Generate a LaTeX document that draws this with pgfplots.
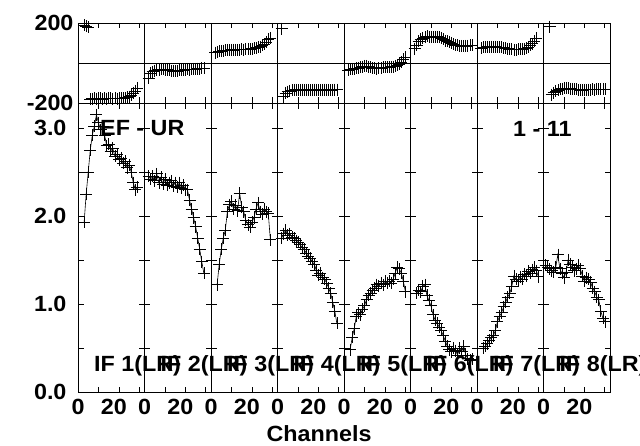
\documentclass[border=0pt]{standalone}
\usepackage{fontspec}
\setmainfont{Liberation Sans}[FakeStretch=1.06]
\usepackage{pgfplots}
\pgfplotsset{compat=1.18}
\pgfplotsset{
 panel/.style={scale only axis, width=66.5pt, xmin=0, xmax=32.5, anchor=south west,
   tick align=inside, major tick length=5.5pt, axis line style={line width=0.8pt},
   every tick/.style={black, line width=0.8pt}, clip=false,
   xtick={0,10,20,30}},
 amp/.style={panel, height=289pt, ymin=0, ymax=3.284, ytick={0,0.5,1,1.5,2,2.5,3},
   xticklabels={0,,{\hspace*{-10pt}20},}, yticklabels={},
   xticklabel style={yshift=-3.5pt}},
 ph/.style={panel, height=80pt, ymin=-200, ymax=200, ytick={-200,200}, yticklabels={},
   xticklabels={}},
 first/.style={yticklabel style={xshift=-8pt}},
 firstph/.style={yticklabel style={xshift=-1pt}},
 aser/.style={black, line width=0.6pt, mark=+, mark size=6pt, mark options={line width=0.6pt}},
 pser/.style={black, only marks, mark=+, mark size=6pt, mark options={line width=0.6pt}},
}
\newcommand{\AmpPanel}[3]{%
  \begin{axis}[amp, at={({78pt+#1*66.5pt},53pt)}, #2]
  \addplot[aser] coordinates {#3};
  \end{axis}}
\newcommand{\PhPanel}[3]{%
  \begin{axis}[ph, at={({78pt+#1*66.5pt},342pt)}, #2]
  \draw[black, line width=0.8pt] (axis cs:0,0) -- (axis cs:32.5,0);
  \addplot[pser] coordinates {#3};
  \end{axis}}
\begin{document}
\begin{tikzpicture}[font=\fontsize{22}{26}\selectfont\bfseries]
\useasboundingbox (0,0) rectangle (640pt,445pt);
% ---------- amplitude ----------
\AmpPanel{0}{first, yticklabels={0.0,,1.0,,2.0,,3.0}}{(3,1.93)(4,2.25)(5,2.50)(6,2.75)(7,2.92)(8,3.02)(9,3.15)(10,3.06)(11,2.98)(12,3.02)(13,2.92)(14,2.80)(15,2.82)(16,2.74)(17,2.77)(18,2.68)(19,2.70)(20,2.64)(21,2.66)(22,2.60)(23,2.62)(24,2.55)(25,2.58)(26,2.50)(27,2.38)(28,2.30)(29,2.33)}
\AmpPanel{1}{}{(2,2.45)(3,2.42)(4,2.45)(5,2.40)(6,2.48)(7,2.38)(8,2.44)(9,2.36)(10,2.42)(11,2.35)(12,2.38)(13,2.40)(14,2.34)(15,2.38)(16,2.33)(17,2.38)(18,2.32)(19,2.35)(20,2.30)(21,2.30)(22,2.18)(23,2.08)(24,1.98)(25,1.88)(26,1.75)(27,1.62)(28,1.48)(29,1.35)}
\AmpPanel{2}{}{(3,1.22)(4,1.45)(5,1.62)(6,1.75)(7,1.84)(8,2.05)(9,2.13)(10,2.17)(11,2.08)(12,2.12)(13,2.06)(14,2.26)(15,2.10)(16,2.05)(17,1.95)(18,1.90)(19,1.87)(20,1.93)(21,1.98)(22,2.08)(23,2.15)(24,2.05)(25,2.02)(26,2.08)(27,2.05)(28,2.03)(29,1.73)}
\AmpPanel{3}{}{(2,1.75)(3,1.80)(4,1.84)(5,1.78)(6,1.80)(7,1.76)(8,1.75)(9,1.72)(10,1.70)(11,1.68)(12,1.64)(13,1.62)(14,1.58)(15,1.54)(16,1.52)(17,1.48)(18,1.45)(19,1.38)(20,1.33)(21,1.35)(22,1.30)(23,1.28)(24,1.24)(25,1.18)(26,1.12)(27,1.02)(28,0.92)(29,0.78)}
\AmpPanel{4}{}{(3,0.48)(4,0.62)(5,0.72)(6,0.86)(7,0.90)(8,0.88)(9,0.94)(10,0.98)(11,1.05)(12,1.10)(13,1.12)(14,1.16)(15,1.18)(16,1.22)(17,1.20)(18,1.24)(19,1.22)(20,1.26)(21,1.24)(22,1.26)(23,1.24)(24,1.28)(25,1.35)(26,1.42)(27,1.40)(28,1.35)(29,1.26)(30,1.14)}
\AmpPanel{5}{}{(3,1.12)(4,1.16)(5,1.14)(6,1.20)(7,1.22)(8,1.10)(9,1.04)(10,0.98)(11,0.88)(12,0.82)(13,0.78)(14,0.74)(15,0.70)(16,0.64)(17,0.58)(18,0.52)(19,0.48)(20,0.46)(21,0.50)(22,0.47)(23,0.42)(24,0.50)(25,0.46)(26,0.52)(27,0.42)(28,0.38)(29,0.36)(30,0.37)}
\AmpPanel{6}{}{(3,0.50)(4,0.52)(5,0.55)(6,0.59)(7,0.62)(8,0.64)(9,0.70)(10,0.80)(11,0.86)(12,0.90)(13,0.97)(14,1.02)(15,1.08)(16,1.12)(17,1.20)(18,1.32)(19,1.28)(20,1.26)(21,1.31)(22,1.28)(23,1.34)(24,1.32)(25,1.37)(26,1.35)(27,1.39)(28,1.42)(29,1.38)(30,1.31)}
\AmpPanel{7}{}{(1,1.44)(2,1.42)(3,1.40)(4,1.38)(5,1.36)(6,1.42)(7,1.56)(8,1.40)(9,1.35)(10,1.30)(11,1.36)(12,1.50)(13,1.45)(14,1.42)(15,1.38)(16,1.40)(17,1.44)(18,1.40)(19,1.32)(20,1.26)(21,1.30)(22,1.28)(23,1.25)(24,1.18)(25,1.14)(26,1.08)(27,1.05)(28,0.92)(29,0.84)(30,0.80)}
% ---------- phase ----------
\PhPanel{0}{firstph, yticklabels={-200,200}}{(3,188)(4,183)(5,178)(6,-180)(7,-178)(8,-176)(9,-179)(10,-175)(11,-177)(12,-180)(13,-176)(14,-178)(15,-175)(16,-177)(17,-179)(18,-176)(19,-178)(20,-175)(21,-177)(22,-176)(23,-174)(24,-172)(25,-168)(26,-160)(27,-150)(28,-140)(29,-125)}
\PhPanel{1}{}{(2,-77)(3,-50)(4,-43)(5,-38)(6,-35)(7,-33)(8,-30)(9,-32)(10,-35)(11,-33)(12,-36)(13,-38)(14,-40)(15,-38)(16,-40)(17,-37)(18,-36)(19,-35)(20,-33)(21,-32)(22,-33)(23,-32)(24,-30)(25,-30)(26,-28)(27,-28)(28,-27)(29,-27)}
\PhPanel{2}{}{(2,52)(3,55)(4,58)(5,60)(6,62)(7,63)(8,65)(9,64)(10,66)(11,65)(12,67)(13,66)(14,66)(15,68)(16,67)(17,68)(18,70)(19,70)(20,72)(21,74)(22,76)(23,78)(24,82)(25,88)(26,95)(27,105)(28,120)(29,125)}
\PhPanel{3}{}{(2,172)(3,-168)(4,-150)(5,-143)(6,-140)(7,-137)(8,-135)(9,-134)(10,-136)(11,-135)(12,-133)(13,-136)(14,-135)(15,-134)(16,-136)(17,-135)(18,-133)(19,-135)(20,-136)(21,-134)(22,-135)(23,-133)(24,-135)(25,-134)(26,-136)(27,-134)(28,-133)(29,-133)}
\PhPanel{4}{}{(2,-35)(3,-32)(4,-30)(5,-28)(6,-27)(7,-25)(8,-22)(9,-18)(10,-15)(11,-15)(12,-18)(13,-22)(14,-25)(15,-27)(16,-28)(17,-27)(18,-25)(19,-22)(20,-20)(21,-22)(22,-20)(23,-18)(24,-18)(25,-15)(26,-12)(27,-5)(28,5)(29,18)(30,30)}
\PhPanel{5}{}{(2,72)(3,90)(4,108)(5,118)(6,125)(7,130)(8,133)(9,132)(10,130)(11,128)(12,130)(13,132)(14,128)(15,125)(16,118)(17,112)(18,108)(19,105)(20,100)(21,95)(22,90)(23,88)(24,86)(25,85)(26,84)(27,85)(28,86)(29,88)(30,88)}
\PhPanel{6}{}{(2,75)(3,78)(4,80)(5,82)(6,80)(7,82)(8,80)(9,82)(10,80)(11,78)(12,78)(13,76)(14,74)(15,72)(16,70)(17,68)(18,66)(19,66)(20,68)(21,68)(22,70)(23,72)(24,75)(25,80)(26,88)(27,96)(28,110)(29,125)}
\PhPanel{7}{}{(3,182)(4,-158)(5,-148)(6,-140)(7,-136)(8,-132)(9,-128)(10,-125)(11,-125)(12,-127)(13,-128)(14,-130)(15,-131)(16,-132)(17,-134)(18,-135)(19,-135)(20,-134)(21,-134)(22,-133)(23,-134)(24,-132)(25,-133)(26,-132)(27,-131)(28,-131)(29,-130)(30,-132)}
% ---------- texts ----------
\node[anchor=base west, inner sep=0] at (100pt,309pt) {EF - UR};
\node[anchor=base west, inner sep=0] at (513pt,308pt) {1 - 11};
\foreach \k in {0,...,7} {
  \pgfmathsetmacro{\xx}{94+\k*66.5}
  \pgfmathtruncatemacro{\n}{\k+1}
  \node[anchor=base west, inner sep=0] at (\xx pt,74pt) {IF \n(LR)};
}
\node[anchor=base, inner sep=0] at (319pt,3.5pt) {Channels};
\end{tikzpicture}
\end{document}
